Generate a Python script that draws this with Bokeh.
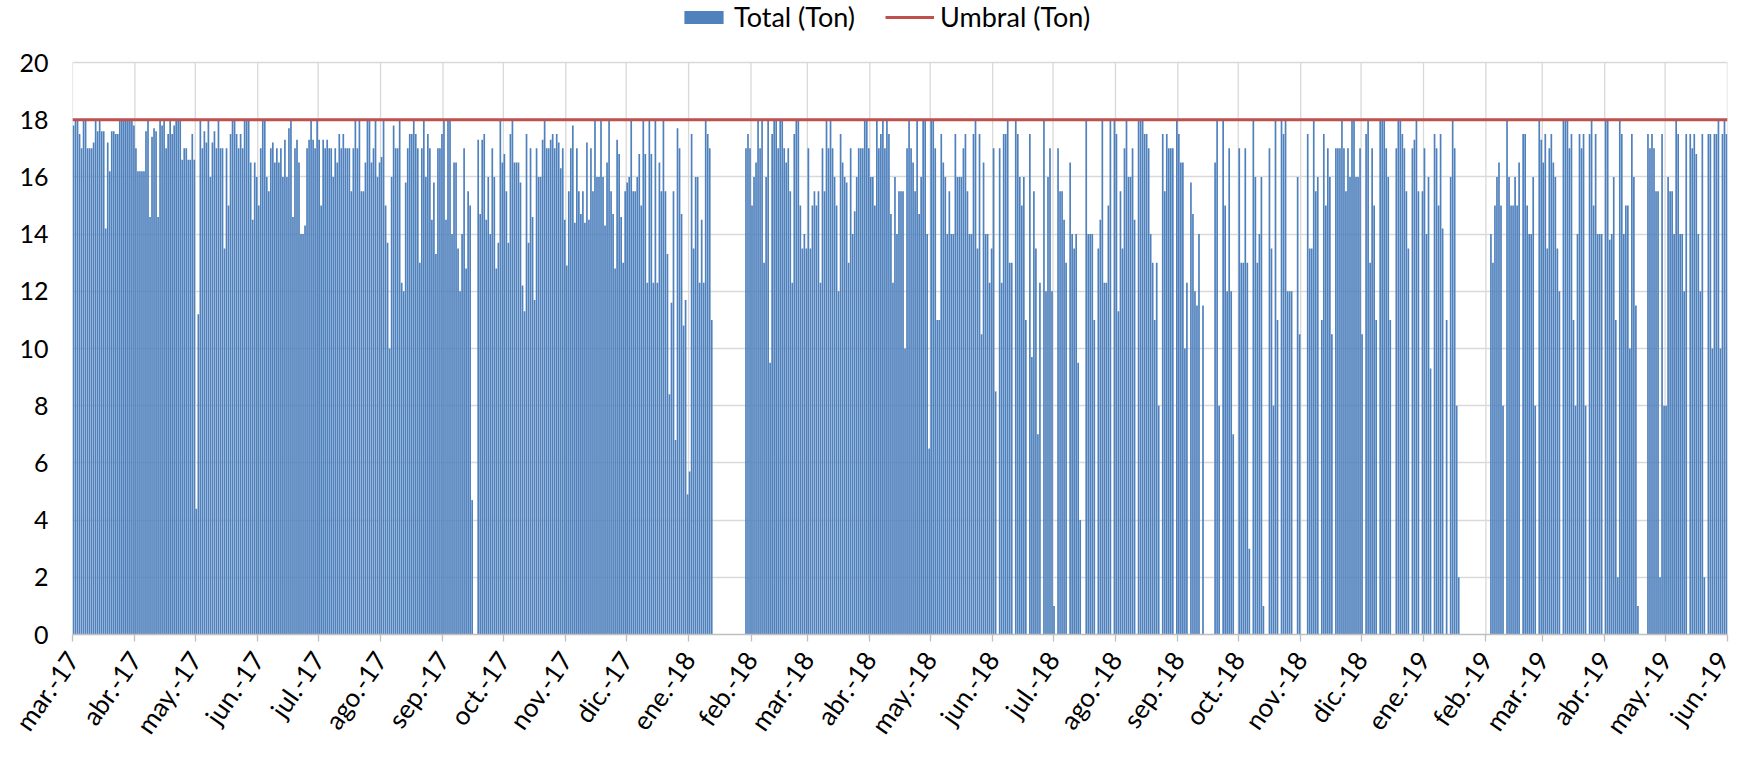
import math
from datetime import datetime, timedelta
from bokeh.plotting import figure
from bokeh.models import ColumnDataSource, FixedTicker, Legend, LegendItem, Range1d
from bokeh.embed import file_html
from bokeh.resources import INLINE

# ---------------- data ----------------
month_starts = ["2017-03-01", "2017-04-01", "2017-05-01", "2017-06-01", "2017-07-01", "2017-08-01",
                "2017-09-01", "2017-10-01", "2017-11-01", "2017-12-01", "2018-01-01", "2018-02-01",
                "2018-03-01", "2018-04-01", "2018-05-01", "2018-06-01", "2018-07-01", "2018-08-01",
                "2018-09-01", "2018-10-01", "2018-11-01", "2018-12-01", "2019-01-01", "2019-02-01",
                "2019-03-01", "2019-04-01", "2019-05-01", "2019-06-01"]
month_labels = ["mar.-17", "abr.-17", "may.-17", "jun.-17", "jul.-17", "ago.-17", "sep.-17", "oct.-17",
                "nov.-17", "dic.-17", "ene.-18", "feb.-18", "mar.-18", "abr.-18", "may.-18", "jun.-18",
                "jul.-18", "ago.-18", "sep.-18", "oct.-18", "nov.-18", "dic.-18", "ene.-19", "feb.-19",
                "mar.-19", "abr.-19", "may.-19", "jun.-19"]

# daily "Total (Ton)" values, one list per month
mar17 = [17.8, 18, 18, 17.5, 17, 18, 18, 17, 17, 17, 17.2, 18, 17.6, 18, 17.6, 17.6, 14.2, 17.2, 16.2, 17.6,
         17.6, 17.5, 17.5, 18, 18, 18, 18, 18, 18, 18, 17.8]
apr17 = [17, 16.2, 16.2, 16.2, 16.2, 17.6, 18, 14.6, 17.4, 17.7, 17.6, 14.6, 18, 17.8, 18, 17, 17.5, 18, 17.5,
         17.8, 18, 18, 18, 16.6, 17, 17, 16.6, 16.6, 17.5, 16.6]
may17 = [4.4, 11.2, 18, 17, 17.6, 17.2, 18, 16, 17.2, 17.6, 17, 18, 17, 17, 13.5, 17, 15, 17.5, 18, 18, 17.5,
         17, 17.5, 17, 18, 18, 18, 16.5, 14.5, 16.5, 16]
jun17 = [15, 17, 18, 18, 16, 15.5, 17, 17.2, 16.5, 17, 16.5, 17, 16, 17.3, 16, 17.7, 18, 14.6, 17, 17.3, 16.5,
         14, 14, 14.3, 17, 17.3, 18, 17.3, 17, 18]
jul17 = [17.3, 15, 17.3, 17, 17.3, 17, 17, 16, 17, 16.5, 17.5, 17, 17.5, 17, 17, 17, 15.5, 17, 18, 17, 18,
         15.5, 15.5, 16.5, 18, 18, 16.5, 17, 18, 16, 16.5]
aug17 = [16.7, 18, 15, 13.7, 10, 16, 17.8, 17, 17, 18, 12.3, 12, 15.8, 17, 17.5, 17.5, 18, 17.5, 17, 13, 17,
         18, 16, 17.5, 17, 14.5, 15.8, 13.3, 17, 17, 17.5]
sep17 = [18, 14.5, 18, 18, 14, 16.5, 16.5, 13.5, 12, 14, 17, 12.8, 15.5, 15, 4.7, 0, 0, 17.3, 14.7, 17.3, 17.5,
         14.5, 16, 14, 17, 16, 12.8, 13.7, 18, 16.5]
oct17 = [16.8, 15.5, 13.7, 17.5, 18, 16.5, 16.5, 16.5, 15.8, 12.2, 11.3, 17.5, 13.7, 17, 14.6, 11.7, 17, 16,
         16, 17.3, 18, 17, 17, 17.3, 17.5, 17, 17.5, 17.2, 16.3, 17, 14.5]
nov17 = [12.9, 15.5, 17, 17.8, 14.4, 17, 15.5, 14.7, 15.5, 14.4, 17.2, 14.5, 17, 15.5, 18, 16, 16, 18, 16, 14.3,
         16.5, 18, 15.5, 14.7, 12.8, 17.3, 16.8, 14.6, 13, 15.5]
dec17 = [15.8, 16, 18, 15.5, 15.5, 16, 16.8, 15, 18, 16.8, 12.3, 18, 16.8, 12.3, 18, 12.3, 16.5, 15.5, 18, 15.5,
         13.3, 8.4, 11.6, 15.5, 6.8, 17.7, 17, 14.7, 10.8, 11.7, 4.9]
jan18 = [5.7, 17.5, 13.5, 16, 16, 12.3, 14.5, 12.3, 18, 17.5, 17, 11, 0, 0, 0, 0, 0, 0, 0, 0, 0, 0, 0, 0, 0, 0,
         0, 0, 17, 17.5, 17]
feb18 = [15, 16, 16.5, 18, 17, 18, 13, 16, 18, 9.5, 17.5, 18, 18, 17, 18, 18, 17, 16.5, 17, 15.5, 12.3, 17.5, 18,
         18, 15, 13.5, 14, 13.5]
mar18 = [17, 13.5, 15, 15.5, 15, 15.5, 12.3, 17, 15.5, 18, 17, 18, 17, 16, 15, 12, 17.5, 16.5, 16, 15.8, 13, 17,
         14, 14.8, 16, 17, 17, 17, 18, 18, 17]
apr18 = [16, 16, 15, 18, 17, 17.5, 18, 17, 18, 17.5, 14.7, 12.3, 16, 14, 15.5, 15.5, 15.5, 10, 17, 18, 17, 16.5,
         15.5, 18, 14.7, 16, 18, 18, 14, 6.5]
may18 = [18, 18, 17, 11, 11, 17.5, 16.5, 16, 14, 15.5, 14, 14, 17.5, 16, 16, 16, 17, 17.5, 15.5, 14, 14, 17.5,
         18, 13.5, 17.5, 10.5, 16.5, 14, 14, 12.3, 13.5]
jun18 = [17, 8.5, 0, 17, 12.3, 17.5, 17.5, 18, 13, 13, 0, 18, 17.5, 16, 15, 16, 11, 0, 17.5, 9.7, 15.5, 13.5, 7,
         12.3, 0, 18, 12, 16, 17, 12]
jul18 = [1, 0, 17, 15.5, 15.5, 14.5, 13, 0, 16.5, 14, 13.5, 14, 9.5, 4, 0, 0, 18, 14, 14, 14, 11, 0, 13.5, 14.5,
         18, 12.3, 12.3, 15, 18, 0, 18]
aug18 = [17.5, 11.3, 15.5, 13.5, 17, 18, 16, 16, 17, 14.5, 0, 18, 18, 18, 17.5, 17.5, 17, 14, 13, 11, 13, 8, 0,
         17.5, 15.5, 17.5, 17, 17, 17, 0, 18]
sep18 = [17.5, 16.5, 16.5, 10, 12.3, 0, 15.8, 14.7, 12, 11.5, 14, 0, 11.5, 0, 0, 0, 0, 0, 16.5, 18, 8, 0, 18, 15,
         12, 17, 12, 7, 0, 0]
oct18 = [17, 13, 13, 17, 13, 3, 0, 18, 16, 13, 14, 16, 1, 0, 0, 17, 13.5, 8, 18, 11, 0, 18, 17.5, 18, 12, 12, 12,
         0, 0, 16, 10.5]
nov18 = [0, 0, 0, 17.5, 13.5, 13.5, 18, 15.5, 16, 0, 11, 17.5, 15, 17, 16, 10.5, 0, 17, 17, 17, 18, 17, 15.5, 17,
         16, 18, 18, 16, 16, 17]
dec18 = [10.5, 0, 17.5, 18, 13, 17, 15, 11, 0, 18, 18, 18, 17, 16, 11, 0, 0, 17, 18, 18, 17.5, 17, 15.5, 13.5, 0,
         17, 17.3, 18, 15.5, 0, 15.5]
jan19 = [17, 14, 16, 9.3, 0, 17.5, 17, 15, 17.5, 14.2, 0, 11, 0, 16, 18, 17, 8, 2, 0, 0, 0, 0, 0, 0, 0, 0, 0, 0,
         0, 0, 0]
feb19 = [0, 0, 14, 13, 15, 16, 16.5, 15, 8, 0, 18, 16, 15, 15, 16, 15, 16.5, 0, 17.5, 17.5, 15, 14, 14, 16, 8, 0,
         18, 17.3]
mar19 = [16.5, 17.5, 13.5, 17, 17.5, 16.5, 16, 13.5, 12, 0, 18, 18, 18, 17, 17.5, 11, 8, 14, 17.5, 17, 17.5, 8, 0,
         17.5, 18, 15, 17.5, 14, 14, 14, 0]
apr19 = [18, 18, 13.8, 14, 16, 11, 2, 18, 17.5, 14, 15, 15, 10, 17.5, 16, 11.5, 1, 0, 0, 0, 0, 17.5, 17, 17.5, 17,
         15.5, 15.5, 2, 17.5, 8]
may19 = [8, 16, 15.5, 15.5, 14, 18, 17.5, 14, 14, 12, 17.5, 0, 17.5, 17, 17.5, 16.8, 14, 12, 17.5, 2, 0, 17.5,
         17.5, 10, 17.5, 17.5, 18, 10, 17.5, 18, 17.5]

total_by_month = [mar17, apr17, may17, jun17, jul17, aug17, sep17, oct17, nov17, dec17,
                  jan18, feb18, mar18, apr18, may18, jun18, jul18, aug18, sep18, oct18, nov18, dec18,
                  jan19, feb19, mar19, apr19, may19]

umbral_ton = 18.0
y_ticks = [0, 2, 4, 6, 8, 10, 12, 14, 16, 18, 20]
y_max = 20

# ---------------- build sources ----------------
DAY_MS = 86400000.0
EPOCH = datetime(1970, 1, 1)


def to_ms(d):
    return (d - EPOCH).total_seconds() * 1000.0


starts = [datetime.strptime(s, "%Y-%m-%d") for s in month_starts]
tick_ms = [to_ms(d) for d in starts]

xs, tops = [], []
for start, vals in zip(starts, total_by_month):
    for i, v in enumerate(vals):
        xs.append(to_ms(start + timedelta(days=i)) + DAY_MS / 2)
        tops.append(v)

bar_src = ColumnDataSource(data=dict(x=xs, top=tops))
umbral_src = ColumnDataSource(data=dict(x=[tick_ms[0], tick_ms[-1]], y=[umbral_ton, umbral_ton]))
vgrid_src = ColumnDataSource(data=dict(x=tick_ms, y0=[0] * len(tick_ms), y1=[y_max] * len(tick_ms)))

FONT = "Lato"

# layout (pixels)
W, H = 1735, 752
LEFT, RIGHT, BOTTOM = 72, 8, 118
PLOT_TOP = 62            # where the value 20 sits, measured from the top of the figure
frame_h = H - BOTTOM     # frame spans from the very top; legend lives above the value 20
y_end = y_max * frame_h / (frame_h - PLOT_TOP)

p = figure(width=W, height=H, x_axis_type="datetime", output_backend="svg", toolbar_location=None,
           x_range=Range1d(tick_ms[0], tick_ms[-1]), y_range=Range1d(0, y_end),
           min_border_left=LEFT, min_border_right=RIGHT, min_border_top=0, min_border_bottom=BOTTOM)
p.outline_line_color = None
p.background_fill_color = "white"
p.border_fill_color = "white"

# grids (vertical month lines stop at the top value, as in the original)
p.xgrid.visible = False
p.ygrid.ticker = FixedTicker(ticks=y_ticks)
p.ygrid.grid_line_color = "#D9D9D9"
p.ygrid.grid_line_width = 1.3
p.segment(x0="x", y0="y0", x1="x", y1="y1", source=vgrid_src, line_color="#D9D9D9", line_width=1.3,
          level="underlay")

bars = p.vbar(x="x", top="top", width=DAY_MS * 0.84, source=bar_src, fill_color="#4F81BD", line_color=None)
line = p.line(x="x", y="y", source=umbral_src, line_color="#C0504D", line_width=3)

# x axis
xa = p.xaxis[0]
xa.ticker = FixedTicker(ticks=tick_ms)
xa.major_label_overrides = {t: lab for t, lab in zip(tick_ms, month_labels)}
xa.major_label_orientation = 0.96
xa.axis_line_color = "#BFBFBF"
xa.axis_line_width = 1.3
xa.major_tick_line_color = "#BFBFBF"
xa.major_tick_line_width = 1.3
xa.major_tick_in = 0
xa.major_tick_out = 7
xa.minor_tick_line_color = None
xa.major_label_standoff = 13
xa.major_label_text_font = FONT
xa.major_label_text_font_size = "26px"
xa.major_label_text_color = "#000000"

# y axis
ya = p.yaxis[0]
ya.ticker = FixedTicker(ticks=y_ticks)
ya.axis_line_color = None
ya.major_tick_line_color = None
ya.major_tick_out = 0
ya.major_tick_in = 0
ya.minor_tick_line_color = None
ya.major_label_standoff = 24
ya.major_label_text_font = FONT
ya.major_label_text_font_size = "25px"
ya.major_label_text_color = "#000000"

legend = Legend(items=[LegendItem(label="Total (Ton)", renderers=[bars]),
                       LegendItem(label="Umbral (Ton)", renderers=[line])],
                orientation="horizontal", location=(607, frame_h - 33),
                label_text_font=FONT, label_text_font_size="27px", label_text_color="#000000",
                glyph_width=49, glyph_height=16, label_standoff=6, spacing=30,
                padding=0, margin=0, border_line_color=None, background_fill_alpha=0)
p.add_layout(legend, "center")

open("out.html", "w").write(file_html(p, INLINE))
